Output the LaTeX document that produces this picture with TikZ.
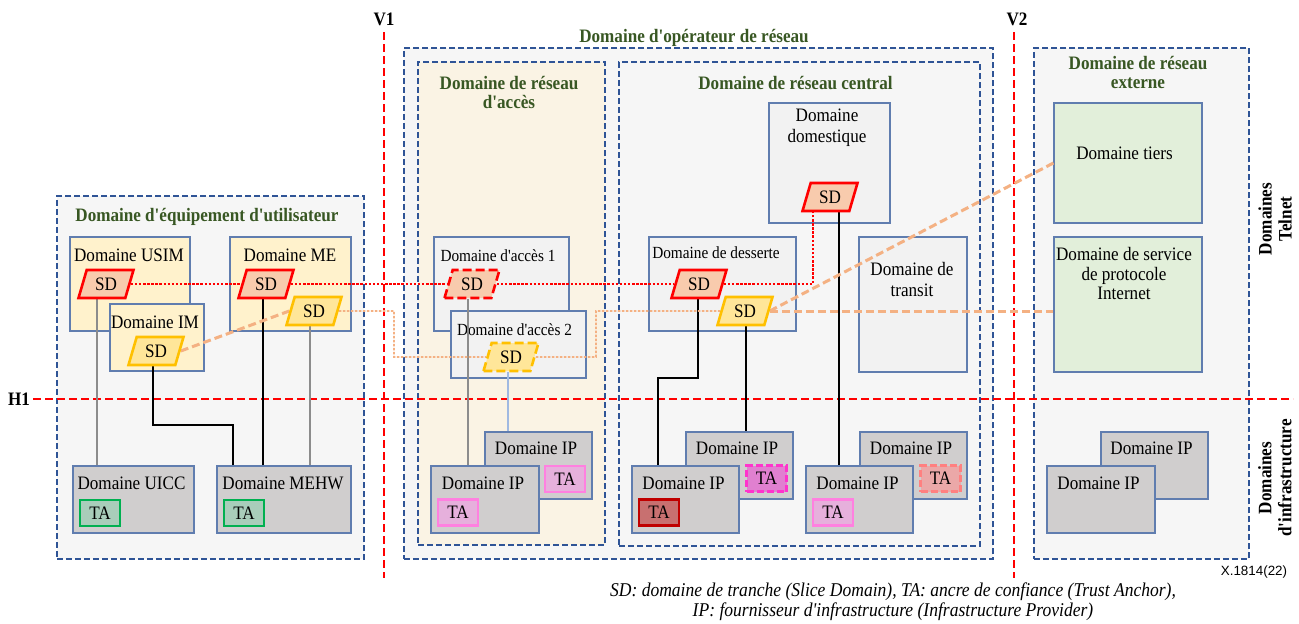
\documentclass[tikz,border=0pt]{standalone}
\usepackage{fontspec}
\newfontfamily\mainf{Liberation Serif}[FakeStretch=0.9]
\newfontfamily\sansf{Liberation Sans}
\usetikzlibrary{shapes.geometric}
\pgfdeclarelayer{L0}\pgfdeclarelayer{L1}\pgfdeclarelayer{L2}
\pgfsetlayers{L0,L1,L2,main}
\definecolor{dblue}{RGB}{47,84,150}
\definecolor{dfill}{RGB}{246,246,246}
\definecolor{afill}{RGB}{250,243,228}
\definecolor{bblue}{RGB}{96,125,175}
\definecolor{yfill}{RGB}{255,242,204}
\definecolor{gfill}{RGB}{208,206,206}
\definecolor{lfill}{RGB}{242,242,242}
\definecolor{grfill}{RGB}{226,239,218}
\definecolor{tgreen}{RGB}{56,87,35}
\definecolor{sdred}{RGB}{255,0,0}
\definecolor{sdrfill}{RGB}{248,203,173}
\definecolor{sdyel}{RGB}{255,192,0}
\definecolor{sdyfill}{RGB}{255,230,153}
\definecolor{orng}{RGB}{244,177,131}
\definecolor{tagreen}{RGB}{0,176,80}
\definecolor{tagfill}{RGB}{169,205,186}
\definecolor{tapink}{RGB}{255,128,224}
\definecolor{tapfill}{RGB}{230,176,220}
\definecolor{tamag}{RGB}{255,51,204}
\definecolor{tamfill}{RGB}{224,128,208}
\definecolor{tadr}{RGB}{192,0,0}
\definecolor{tadrfill}{RGB}{200,112,112}
\definecolor{tasal}{RGB}{255,128,128}
\definecolor{tasfill}{RGB}{235,168,168}
\definecolor{lbline}{RGB}{160,185,225}
\definecolor{gline}{RGB}{140,140,140}
\newcommand{\fm}{\mainf\fontsize{19}{21}\selectfont}
\newcommand{\fsm}{\mainf\fontsize{17}{19}\selectfont}
\newcommand{\ftl}{\mainf\fontsize{19}{19.5}\selectfont\bfseries\color{tgreen}}
\begin{document}
\begin{tikzpicture}[x=1pt,y=-1pt,
  sz/.style 2 args={minimum width=#1pt, minimum height=#2pt},
  dombox/.style={draw=dblue, line width=2.7pt, dash pattern=on 6pt off 3pt, fill=dfill, inner sep=0pt},
  bx/.style={draw=bblue, line width=1.2pt, inner sep=0pt},
  ybox/.style={bx, fill=yfill},
  gbox/.style={bx, fill=gfill},
  lbox/.style={bx, fill=lfill},
  grbox/.style={bx, fill=grfill},
  lbl/.style={font=\fm, inner sep=0pt, anchor=base},
  slbl/.style={font=\fsm, inner sep=0pt, anchor=base},
  mlbl/.style={font=\fm, inner sep=0pt, align=center},
  ttl/.style={font=\ftl, inner sep=0pt, anchor=base},
  mttl/.style={font=\ftl, inner sep=0pt, align=center},
  vl/.style={font=\mainf\fontsize{19}{19}\selectfont\bfseries, inner sep=0pt, anchor=base},
  rot/.style={font=\mainf\fontsize{19}{20}\selectfont\bfseries, inner sep=0pt, align=center, rotate=90},
  sdbox/.style={trapezium, trapezium left angle=70, trapezium right angle=110, trapezium stretches=true,
     minimum width=55pt, minimum height=28pt, inner sep=0pt, line width=2.6pt, font=\fm},
  sdr/.style={sdbox, draw=sdred, fill=sdrfill},
  sdy/.style={sdbox, draw=sdyel, fill=sdyfill},
  sddash/.style={dash pattern=on 9pt off 4pt},
  tabox/.style={rectangle, minimum width=40pt, minimum height=26pt, inner sep=0pt, line width=2.4pt, font=\fm},
  redline/.style={draw=red, line width=2pt, dash pattern=on 8pt off 4pt},
  rdot/.style={draw=red, line width=2pt, dash pattern=on 2.5pt off 1.6pt},
  othick/.style={draw=orng, line width=3pt, dash pattern=on 8pt off 4pt},
  odot/.style={draw=orng, line width=1.6pt, dash pattern=on 2.5pt off 1.5pt},
  blk/.style={draw=black, line width=1.3pt},
  gry/.style={draw=gline, line width=1.2pt},
  lbl2/.style={draw=lbline, line width=1.2pt}
]
\useasboundingbox (0,0) rectangle (1299,624);

% ---------- domains ----------
\begin{pgfonlayer}{L0}
\node[dombox, sz={307}{363}] (ueD) at (210.5,377.5) {};
\node[dombox, sz={589}{511}] (opD) at (698.5,303.5) {};
\node[dombox, fill=afill, sz={187}{483}] (accD) at (511.5,303.5) {};
\node[dombox, sz={361}{484}] (coreD) at (799.5,304) {};
\node[dombox, sz={215}{511}] (extD) at (1141.5,303.5) {};
\end{pgfonlayer}

% ---------- boxes ----------
\begin{pgfonlayer}{L1}
\node[ybox, sz={120}{94}] (usim) at (130,284) {};
\node[ybox, sz={121}{94}] (me) at (290.5,284) {};
\node[ybox, sz={94}{67}] (im) at (157,337.5) {};
\node[gbox, sz={121}{67}] (uicc) at (133.5,499.5) {};
\node[gbox, sz={134}{67}] (mehw) at (284,499.5) {};
\node[lbox, sz={135}{94}] (acc1) at (501.5,284) {};
\node[lbox, sz={135}{67}] (acc2) at (518.5,344.5) {};
\node[gbox, sz={107}{67}] (ipAB) at (538.5,465.5) {};
\node[gbox, sz={108}{67}] (ipAF) at (485,499.5) {};
\node[lbox, sz={121}{120}] (dom) at (829.5,163) {};
\node[lbox, sz={147}{94}] (des) at (722.5,284) {};
\node[lbox, sz={108}{135}] (tra) at (913,304.5) {};
\node[gbox, sz={107}{67}] (ipCLB) at (739.5,465.5) {};
\node[gbox, sz={107}{67}] (ipCLF) at (685.5,499.5) {};
\node[gbox, sz={107}{67}] (ipCRB) at (913.5,465.5) {};
\node[gbox, sz={107}{67}] (ipCRF) at (859.5,499.5) {};
\node[grbox, sz={148}{120}] (tiers) at (1128,163) {};
\node[grbox, sz={148}{135}] (serv) at (1128,304.5) {};
\node[gbox, sz={107}{67}] (ipEB) at (1154.5,465.5) {};
\node[gbox, sz={108}{67}] (ipEF) at (1101,499.5) {};

% box labels
\node[lbl] (usimT) at (129,261) {Domaine USIM};
\node[lbl] (meT) at (290,261) {Domaine ME};
\node[lbl] (imT) at (155,328) {Domaine IM};
\node[lbl] (uiccT) at (131.5,489) {Domaine UICC};
\node[lbl] (mehwT) at (283,489) {Domaine MEHW};
\node[slbl] (acc1T) at (498,261.5) {Domaine d'accès 1};
\node[slbl] (acc2T) at (514.5,335.5) {Domaine d'accès 2};
\node[lbl] (ipABT) at (536,454) {Domaine IP};
\node[lbl] (ipAFT) at (483,489) {Domaine IP};
\node[mlbl] (domT) at (827,128) {Domaine\\domestique};
\node[slbl] (desT) at (716,258.5) {Domaine de desserte};
\node[mlbl] (traT) at (912,279.5) {Domaine de\\transit};
\node[lbl] (ipCLBT) at (737,454) {Domaine IP};
\node[lbl] (ipCLFT) at (683.5,489) {Domaine IP};
\node[lbl] (ipCRBT) at (911,454) {Domaine IP};
\node[lbl] (ipCRFT) at (857.5,489) {Domaine IP};
\node[lbl] (tiersT) at (1124.5,159) {Domaine tiers};
\node[mlbl, font=\mainf\fontsize{19}{19.5}\selectfont] (servT) at (1124,273.5) {Domaine de service\\de protocole\\Internet};
\node[lbl] (ipEBT) at (1151.5,454) {Domaine IP};
\node[lbl] (ipEFT) at (1098.5,489) {Domaine IP};

% titles
\node[ttl] (ueT) at (207,221) {Domaine d'équipement d'utilisateur};
\node[ttl] (opT) at (694,42) {Domaine d'opérateur de réseau};
\node[ttl] (coreT) at (795.5,89) {Domaine de réseau central};
\node[mttl] (accT) at (509,92.5) {Domaine de réseau\\d'accès};
\node[mttl] (extT) at (1138,72.5) {Domaine de réseau\\externe};
\end{pgfonlayer}

% ---------- slice domains and trust anchors ----------
\node[sdr] (sdU) at (106,284) {SD};
\node[sdy] (sdIM) at (156,351) {SD};
\node[sdr] (sdME) at (266,284) {SD};
\node[sdy] (sdMEy) at (314,311) {SD};
\node[sdr, sddash] (sdA1) at (472,284) {SD};
\node[sdy, sddash] (sdA2) at (511,357) {SD};
\node[sdr] (sdDom) at (830,197) {SD};
\node[sdr] (sdDes) at (699,284) {SD};
\node[sdy] (sdDy) at (745,311) {SD};

\node[tabox, draw=tagreen, fill=tagfill] (taU) at (100,513) {TA};
\node[tabox, draw=tagreen, fill=tagfill] (taM) at (244,513) {TA};
\node[tabox, draw=tapink, fill=tapfill] (taAB) at (565,479) {TA};
\node[tabox, draw=tapink, fill=tapfill] (taAF) at (458,512.5) {TA};
\node[tabox, draw=tamag, fill=tamfill, dash pattern=on 7pt off 3pt] (taCLB) at (766.5,478.5) {TA};
\node[tabox, draw=tadr, fill=tadrfill] (taCLF) at (659,512.5) {TA};
\node[tabox, draw=tasal, fill=tasfill, dash pattern=on 7pt off 3pt] (taCRB) at (940.5,478.5) {TA};
\node[tabox, draw=tapink, fill=tapfill] (taCRF) at (833,512.5) {TA};

% ---------- connectors ----------
\coordinate (v1t) at (384,32); \coordinate (v1b) at (384,578);
\coordinate (v2t) at (1014,32); \coordinate (v2b) at (1014,578);
\coordinate (h1l) at (33,399); \coordinate (h1r) at (1293,399);
\coordinate (imBend) at (233,425);
\coordinate (desBend) at (658,378);
\coordinate (od2) at (394,357);
\coordinate (od3) at (596,311);

\begin{pgfonlayer}{L2}
\draw[redline] (v1t) -- (v1b);
\draw[redline] (v2t) -- (v2b);
\draw[redline] (h1l) -- (h1r);

\draw[gry] ([xshift=-9pt]sdU.south) -- ([xshift=-9pt]sdU.south |- uicc.north);
\draw[blk] ([xshift=-3pt]sdIM.south) |- (imBend) -- (imBend |- mehw.north);
\draw[blk] ([xshift=-3pt]sdME.south) -- ([xshift=-3pt]sdME.south |- mehw.north);
\draw[gry] ([xshift=-4pt]sdMEy.south) -- ([xshift=-4pt]sdMEy.south |- mehw.north);
\draw[gry] ([xshift=-4pt]sdA1.south) -- ([xshift=-4pt]sdA1.south |- ipAF.north);
\draw[lbl2] ([xshift=-3pt]sdA2.south) -- ([xshift=-3pt]sdA2.south |- ipAB.north);
\draw[blk] ([xshift=-1pt]sdDes.south) |- (desBend) -- (desBend |- ipCLF.north);
\draw[blk] ([xshift=1pt]sdDy.south) -- ([xshift=1pt]sdDy.south |- ipCLB.north);
\draw[blk] ([xshift=9pt]sdDom.south) -- ([xshift=9pt]sdDom.south |- ipCRF.north);

\draw[rdot] (sdU.east) -- (sdME.west);
\draw[rdot] (sdME.east) -- (sdA1.west);
\draw[rdot] (sdA1.east) -- (sdDes.west);
\draw[rdot] (sdDes.east) -| ([xshift=-17pt]sdDom.south);

\draw[odot] (sdMEy.east) -| (od2) -- (sdA2.west);
\draw[odot] (sdA2.east) -| (od3) -- (sdDy.west);

\draw[othick] (sdIM.east) -- (sdMEy.west);
\draw[othick] (sdDy.east) -- (tiers.west);
\draw[othick] (sdDy.east) -- (sdDy.east -| serv.west);
\end{pgfonlayer}

% ---------- axis labels and notes ----------
\node[vl] (v1T) at (384,25) {V1};
\node[vl] (v2T) at (1017,25) {V2};
\node[vl] (h1T) at (19,405) {H1};
\node[rot] (telT) at (1275,219) {Domaines\\Telnet};
\node[rot] (infT) at (1275,478) {Domaines\\d'infrastructure};
\node[font=\sansf\fontsize{13.4}{14}\selectfont, inner sep=0pt] (xref) at (1254,572) {X.1814(22)};
\node[font=\mainf\itshape\fontsize{19.5}{20}\selectfont, align=center, inner sep=0pt] (capt) at (893,602)
  {SD: domaine de tranche (Slice Domain), TA: ancre de confiance (Trust Anchor),\\IP: fournisseur d'infrastructure (Infrastructure Provider)};
\end{tikzpicture}
\end{document}
